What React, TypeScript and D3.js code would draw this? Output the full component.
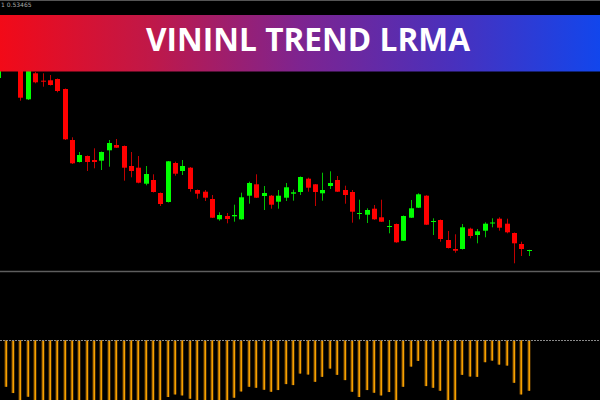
// @ts-nocheck
import * as d3 from 'd3';

const width = 600, height = 400;

// OHLC, one candle per bar (index 0 is the partly visible one at the left edge)
const opens = [0.52720, 0.52980, 0.52900, 0.52840, 0.52507, 0.52767, 0.52693, 0.52697, 0.52710, 0.52610,
  0.52100, 0.51880, 0.51940, 0.51900, 0.51893, 0.51997, 0.52050, 0.52040, 0.51840, 0.51823,
  0.51663, 0.51700, 0.51570, 0.51480, 0.51870, 0.51790, 0.51823, 0.51600, 0.51583, 0.51510,
  0.51307, 0.51340, 0.51337, 0.51307, 0.51543, 0.51657, 0.51540, 0.51543, 0.51483, 0.51523,
  0.51563, 0.51580, 0.51713, 0.51657, 0.51567, 0.51640, 0.51700, 0.51600, 0.51580, 0.51365,
  0.51353, 0.51413, 0.51327, 0.51235, 0.51260, 0.51093, 0.51323, 0.51423, 0.51543, 0.51285,
  0.51300, 0.51100, 0.51010, 0.51010, 0.51213, 0.51150, 0.51193, 0.51270, 0.51313, 0.51263,
  0.51170, 0.51060, 0.50997];
const highs = [0.52880, 0.53020, 0.52950, 0.52880, 0.52860, 0.52780, 0.52767, 0.52750, 0.52715, 0.52615,
  0.52127, 0.51980, 0.51945, 0.52017, 0.51985, 0.52100, 0.52110, 0.52045, 0.51980, 0.51940,
  0.51840, 0.51757, 0.51575, 0.51890, 0.51883, 0.51900, 0.51830, 0.51605, 0.51600, 0.51550,
  0.51377, 0.51370, 0.51453, 0.51573, 0.51683, 0.51757, 0.51640, 0.51550, 0.51600, 0.51670,
  0.51603, 0.51735, 0.51723, 0.51660, 0.51773, 0.51787, 0.51740, 0.51643, 0.51600, 0.51503,
  0.51417, 0.51450, 0.51503, 0.51300, 0.51265, 0.51345, 0.51500, 0.51567, 0.51548, 0.51317,
  0.51305, 0.51190, 0.51157, 0.51260, 0.51223, 0.51210, 0.51277, 0.51317, 0.51327, 0.51313,
  0.51175, 0.51083, 0.51002];
const lows = [0.52710, 0.52840, 0.52800, 0.52493, 0.52500, 0.52667, 0.52633, 0.52645, 0.52577, 0.52100,
  0.51860, 0.51875, 0.51790, 0.51817, 0.51800, 0.51833, 0.52020, 0.51693, 0.51727, 0.51667,
  0.51647, 0.51575, 0.51440, 0.51475, 0.51743, 0.51750, 0.51583, 0.51513, 0.51490, 0.51320,
  0.51293, 0.51267, 0.51283, 0.51302, 0.51463, 0.51520, 0.51400, 0.51413, 0.51413, 0.51490,
  0.51493, 0.51550, 0.51583, 0.51440, 0.51493, 0.51610, 0.51580, 0.51463, 0.51273, 0.51307,
  0.51270, 0.51302, 0.51280, 0.51167, 0.51072, 0.51090, 0.51320, 0.51420, 0.51250, 0.51150,
  0.51083, 0.51015, 0.50973, 0.51005, 0.51117, 0.51067, 0.51127, 0.51227, 0.51193, 0.51167,
  0.50867, 0.50940, 0.50940];
const closes = [0.52840, 0.52880, 0.52840, 0.52523, 0.52820, 0.52677, 0.52683, 0.52650, 0.52590, 0.52107,
  0.51867, 0.51950, 0.51880, 0.51880, 0.51980, 0.52070, 0.52023, 0.51823, 0.51790, 0.51673,
  0.51760, 0.51580, 0.51460, 0.51887, 0.51763, 0.51840, 0.51610, 0.51563, 0.51523, 0.51323,
  0.51350, 0.51310, 0.51350, 0.51527, 0.51670, 0.51523, 0.51570, 0.51453, 0.51543, 0.51627,
  0.51577, 0.51730, 0.51623, 0.51580, 0.51600, 0.51670, 0.51583, 0.51550, 0.51383, 0.51370,
  0.51400, 0.51307, 0.51283, 0.51240, 0.51077, 0.51340, 0.51417, 0.51557, 0.51253, 0.51290,
  0.51110, 0.51020, 0.50993, 0.51227, 0.51140, 0.51187, 0.51263, 0.51275, 0.51223, 0.51177,
  0.51067, 0.51010, 0.51000];

// oscillator histogram (below zero line)
const oscValues = [-40, -46.7, -53, -62, -56.7, -63, -66, -68, -70, -72,
  -72, -71, -70, -69, -68, -67, -66, -66, -65, -65,
  -64, -63, -62, -57, -54.4, -55.4, -58.7, -61, -62, -63,
  -62, -61, -57.7, -51.4, -46.7, -47.7, -49.7, -51.7, -50, -44,
  -45, -33.4, -34.4, -41.7, -36.7, -28.4, -34.7, -40, -51.7, -57,
  -50, -52.7, -55.4, -52, -62, -46.7, -26.4, -20.7, -46, -47.7,
  -50.7, -61, -62, -34.7, -36.4, -36.7, -22, -20.4, -24.4, -25.4,
  -42.7, -54.4, -50.7];

const title = "VININL TREND LRMA";
const priceLabel = "1 0.53465";

const candles = opens.map((o, i) => ({ i, o, h: highs[i], l: lows[i], c: closes[i] }));

const x = d3.scaleLinear().domain([0, 72]).range([-1.7, 528.7]);
const y = d3.scaleLinear().domain([0.535, 0.495]).range([0, 400]);
const yOsc = d3.scaleLinear().domain([0, -60]).range([340.3, 400]);

export default function App() {
  return (
    <svg width={width} height={height} style={{ position: 'fixed', left: 0, top: 0, background: '#000', display: 'block' }}>
      <defs>
        <linearGradient id="banner" x1="0" x2="1" y1="0" y2="0">
          <stop offset="0%" stopColor="#f20a18" />
          <stop offset="25%" stopColor="#c01848" />
          <stop offset="50%" stopColor="#7e2490" />
          <stop offset="75%" stopColor="#4a30bc" />
          <stop offset="100%" stopColor="#1246ec" />
        </linearGradient>
      </defs>
      <rect width={width} height={height} fill="#000" />

      {/* candles */}
      <g>
        {candles.map(d => {
          const cx = Math.round(x(d.i));
          const up = d.c >= d.o;
          const col = up ? '#00ff00' : '#ff0000';
          const top = y(Math.max(d.o, d.c));
          const bot = y(Math.min(d.o, d.c));
          return (
            <g key={d.i}>
              <line x1={cx + 0.5} x2={cx + 0.5} y1={y(d.h)} y2={y(d.l)} stroke={up ? '#00c000' : '#c00000'} strokeWidth={1} />
              <rect x={cx - 2} y={top} width={5} height={Math.max(1, bot - top)} fill={col} />
            </g>
          );
        })}
      </g>

      {/* separator */}
      <line x1={0} x2={width} y1={271.5} y2={271.5} stroke="#5e5e5e" strokeWidth={1.5} />

      {/* oscillator */}
      <g>
        {oscValues.map((v, i) => {
          const cx = Math.round(x(i));
          return (
            <g key={i}>
              <rect x={cx - 1.5} y={yOsc(0)} width={3} height={yOsc(v) - yOsc(0)} fill="#7a4a00" />
              <rect x={cx - 0.5} y={yOsc(0)} width={1.5} height={yOsc(v) - yOsc(0)} fill="#f5a000" />
            </g>
          );
        })}
      </g>
      <line x1={0} x2={width} y1={340.5} y2={340.5} stroke="#8a8a8a" strokeWidth={1} strokeDasharray="2,1" />

      {/* header */}
      <rect x={0} y={0} width={width} height={15} fill="#000" />
      <line x1={0} x2={width} y1={0.5} y2={0.5} stroke="#555" strokeWidth={1} />
      <text x={1} y={7} fill="#aaa" fontSize={6} fontFamily="DejaVu Sans, sans-serif">{priceLabel}</text>
      <rect x={0} y={15} width={width} height={56.5} fill="url(#banner)" />
      <text x={308} y={51} textAnchor="middle" fill="#fff" fontSize={33} fontWeight={700}
        fontFamily="'Open Sans', sans-serif" textLength={324} lengthAdjust="spacingAndGlyphs">{title}</text>
    </svg>
  );
}
